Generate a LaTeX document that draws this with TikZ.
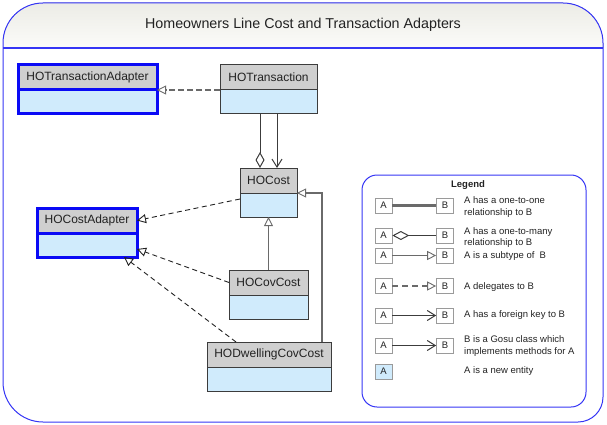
\documentclass[tikz,border=0pt]{standalone}
\usepackage{fontspec}
\setmainfont{Liberation Sans}
\usetikzlibrary{positioning, arrows.meta}
\definecolor{inkgray}{HTML}{222222}
\definecolor{boxline}{HTML}{3C3C3C}
\definecolor{headgray}{HTML}{CFCFCF}
\definecolor{bodyblue}{HTML}{D0EBFC}
\definecolor{adapterblue}{HTML}{0A0AF5}
\definecolor{frameblue}{HTML}{3535F5}
\definecolor{bandtop}{HTML}{ECECE6}
\definecolor{bandbottom}{HTML}{FBFBF9}
\definecolor{linkgray}{HTML}{6A6A6A}
\definecolor{legendline}{HTML}{9A9A9A}

\begin{document}
\begin{tikzpicture}[x=1pt, y=-1pt, >=stealth,
    every node/.style={inkgray, font=\fontsize{12pt}{14pt}\selectfont},
    classhead/.style={draw=boxline, fill=headgray, line width=1pt, inner sep=0pt,
                      outer sep=0pt, minimum height=25pt, anchor=north west},
    classbody/.style={draw=boxline, fill=bodyblue, line width=1pt, inner sep=0pt,
                      outer sep=0pt, minimum height=24pt},
    adapterhead/.style={classhead, draw=adapterblue, line width=3pt},
    adapterbody/.style={classbody, draw=adapterblue, line width=3pt},
    delegate/.style={draw=inkgray, line width=0.9pt, dash pattern=on 5pt off 3.5pt,
                     -{Triangle[open, length=9pt, width=9pt, line width=0.9pt]}},
    subtype/.style={draw=linkgray, line width=1.6pt,
                    -{Triangle[open, length=9pt, width=9pt, line width=0.9pt]}},
    fkey/.style={draw=boxline, line width=1pt, -{Straight Barb[length=8pt, width=10pt]}},
    legbox/.style={draw=legendline, fill=white, line width=0.7pt, inner sep=0pt,
                   minimum width=17pt, minimum height=15pt,
                   font=\fontsize{9.5pt}{11pt}\selectfont},
    legtext/.style={anchor=west, align=left, inner sep=0pt,
                    font=\fontsize{9.5pt}{11.5pt}\selectfont}]

  \useasboundingbox (0,0) rectangle (607,425);

  %% outer frame and title band
  \fill[top color=bandtop, bottom color=bandbottom]
    (3,48) -- (3,43) arc(180:270:40) -- (563,3) arc(270:360:40) -- (603,48) -- cycle;
  \draw[frameblue, line width=1pt]
    (3,43) arc(180:270:40) -- (563,3) arc(270:360:40) -- (603,397)
    arc(0:90:25) -- (43,422) arc(90:180:40) -- cycle;
  \draw[frameblue, line width=1.2pt] (3,48) -- (603,48);
  \node[font=\fontsize{14.3pt}{16pt}\selectfont] (title) at (303,25)
    {Homeowners Line Cost and Transaction Adapters};

  %% classes
  \node[adapterhead, minimum width=139pt] (txadapterh) at (18,65) {HOTransactionAdapter};
  \node[adapterbody, minimum width=139pt, below=0pt of txadapterh] (txadapter) {};

  \node[classhead, minimum width=97pt] (txh) at (220,65) {HOTransaction};
  \node[classbody, minimum width=97pt, below=0pt of txh] (tx) {};

  \node[classhead, minimum width=57pt] (hocosth) at (240,168) {HOCost};
  \node[classbody, minimum width=57pt, below=0pt of hocosth] (hocost) {};

  \node[adapterhead, minimum width=100pt] (costadapterh) at (37,208) {HOCostAdapter};
  \node[adapterbody, minimum width=100pt, below=0pt of costadapterh] (costadapter) {};

  \node[classhead, minimum width=79pt] (covcosth) at (229,270) {HOCovCost};
  \node[classbody, minimum width=79pt, below=0pt of covcosth] (covcost) {};

  \node[classhead, minimum width=124pt] (dwellingh) at (207,342) {HODwellingCovCost};
  \node[classbody, minimum width=124pt, below=0pt of dwellingh] (dwelling) {};

  %% connectors
  \draw[delegate, draw=linkgray, line width=1.5pt, dash pattern=on 6pt off 3pt]
    (tx.north west) -- (tx.north west -| txadapter.east);
  \draw[draw=boxline, line width=1pt, -{Diamond[open, length=16pt, width=9pt]}]
    ([xshift=-8.5pt]tx.south) -- ([xshift=-8.5pt]hocosth.north);
  \draw[fkey] ([xshift=8.5pt]tx.south) -- ([xshift=8.5pt]hocosth.north);
  \draw[delegate] ([yshift=6pt]hocost.west) -- (costadapterh.east);
  \draw[delegate] (covcosth.west) -- ([yshift=-4pt]costadapter.east);
  \draw[delegate] ([xshift=29pt]dwellingh.north west) -- ([xshift=-13pt]costadapter.south east);
  \draw[subtype] (covcosth.north) -- (hocost.south);
  \draw[subtype, line width=1.2pt] ([xshift=-9pt]dwellingh.north east) |- (hocost.north east);

  %% legend
  \draw[frameblue, line width=1pt, rounded corners=15pt] (362,175) rectangle (586,407);
  \node[font=\bfseries\fontsize{9.5pt}{11pt}\selectfont] (legend) at (468,185) {Legend};
  \foreach \row/\yy in {1/205.5, 2/235.5, 3/255.5, 4/286, 5/315.5, 6/345.5} {
    \node[legbox] (la\row) at (383.5,\yy) {A};
    \node[legbox] (lb\row) at (445,\yy) {B};
  }
  \node[legbox, fill=bodyblue] (la7) at (383.5,371.5) {A};

  \draw[linkgray, line width=2.5pt] (la1) -- (lb1);
  \draw[boxline, line width=1pt, {Diamond[open, length=17pt, width=9pt]}-] (la2) -- (lb2);
  \draw[subtype, line width=1.2pt] (la3) -- (lb3);
  \draw[delegate, draw=linkgray, line width=1.5pt, dash pattern=on 6pt off 4pt] (la4) -- (lb4);
  \draw[fkey] (la5) -- (lb5);
  \draw[fkey] (la6) -- (lb6);

  \node[legtext] (lt1) at (464,207) {A has a one-to-one\\relationship to B};
  \node[legtext] (lt2) at (464,237.5) {A has a one-to-many\\relationship to B};
  \node[legtext] (lt3) at (464,256) {A is a subtype of~~B};
  \node[legtext] (lt4) at (464,287) {A delegates to B};
  \node[legtext] (lt5) at (464,315.5) {A has a foreign key to B};
  \node[legtext] (lt6) at (464,346) {B is a Gosu class which\\implements methods for A};
  \node[legtext] (lt7) at (464,371.5) {A is a new entity};

\end{tikzpicture}
\end{document}
